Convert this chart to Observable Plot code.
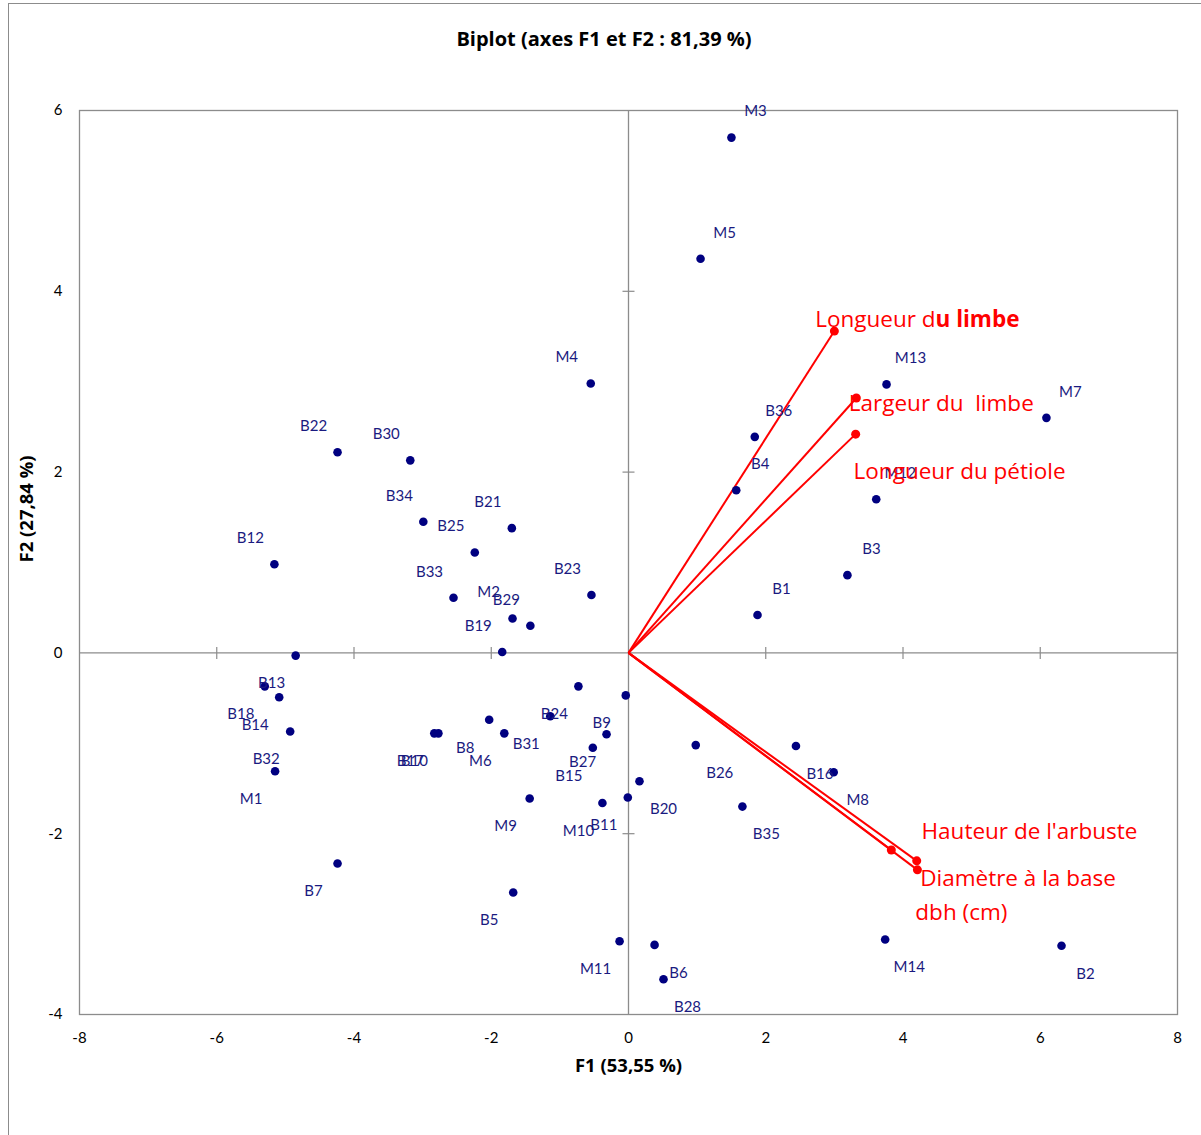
<!DOCTYPE html>
<html>
<head>
<meta charset="utf-8">
<script src="https://cdn.jsdelivr.net/npm/d3@7"></script>
<script src="https://cdn.jsdelivr.net/npm/@observablehq/plot@0.6"></script>
<style>
  body { margin: 0; background: #fff; font-family: Lato, "Open Sans", sans-serif; }
  #wrap { position: relative; width: 1201px; height: 1135px; overflow: hidden; }
  #border { position: absolute; left: 8px; top: 3px; width: 1210px; height: 1150px; border: 1px solid #8c8c8c; box-sizing: border-box; }
  #title { position: absolute; left: 0; top: 25px; width: 1208px; text-align: center; font: bold 20px "Open Sans", sans-serif; color: #000; }
  #chart { position: absolute; left: 0; top: 0; }
</style>
</head>
<body>
<div id="wrap">
  <div id="border"></div>
  <div id="title">Biplot (axes F1 et F2 : 81,39 %)</div>
  <div id="chart"></div>
</div>
<script>
// Observations (F1, F2 coordinates)
const obsNames = ["M3","M5","M13","M7","B36","B4","M12","B3","B1","M4","B22","B30","B34","B21","B25","B12","B33","B23","M2","B29","B19","B13","B18","B14","B32","M1","B17","B10","B8","M6","B31","B24","B9","B27","B15","M9","M10","B11","B7","B5","B20","B26","B16","M8","B35","M11","B6","B28","M14","B2"];
const obsF1 = [1.50,1.05,3.76,6.09,1.84,1.57,3.61,3.19,1.88,-0.55,-4.24,-3.18,-2.99,-1.70,-2.24,-5.16,-2.55,-0.54,-1.69,-1.43,-1.84,-4.85,-5.30,-5.09,-4.93,-5.15,-2.83,-2.77,-2.03,-1.81,-1.14,-0.73,-0.04,-0.32,-0.52,-1.44,-0.38,-0.01,-4.24,-1.68,0.16,0.98,2.44,2.99,1.66,-0.13,0.38,0.51,3.74,6.31];
const obsF2 = [5.70,4.36,2.97,2.60,2.39,1.80,1.70,0.86,0.42,2.98,2.22,2.13,1.45,1.38,1.11,0.98,0.61,0.64,0.38,0.30,0.01,-0.03,-0.37,-0.49,-0.87,-1.31,-0.89,-0.89,-0.74,-0.89,-0.70,-0.37,-0.47,-0.90,-1.05,-1.61,-1.66,-1.60,-2.33,-2.65,-1.42,-1.02,-1.03,-1.32,-1.70,-3.19,-3.23,-3.61,-3.17,-3.24];

// Variables (vectors)
const varNames = ["Longueur du limbe","Largeur du  limbe","Longueur du pétiole","Hauteur de l'arbuste","Diamètre à la base","dbh (cm)"];
const varF1 = [3.00,3.32,3.31,4.20,4.21,3.83];
const varF2 = [3.56,2.82,2.42,-2.30,-2.40,-2.18];
const varLabelF1 = [2.72,3.21,3.28,4.27,4.25,4.18];
const varLabelF2 = [3.69,2.76,2.00,-1.98,-2.50,-2.87];

// Tick values
const xTicks = [-8,-6,-4,-2,0,2,4,6,8];
const yTicks = [-4,-2,0,2,4,6];
const xInner = [-6,-4,-2,2,4,6];
const yInner = [-2,2,4];

const obs = obsNames.map((n,i) => ({name:n, f1:obsF1[i], f2:obsF2[i]}));
const vars = varNames.map((n,i) => ({name:n, f1:varF1[i], f2:varF2[i], lx:varLabelF1[i], ly:varLabelF2[i]}));

const hTick = {draw(ctx){ ctx.moveTo(-6,0); ctx.lineTo(6,0); }};
const vTick = {draw(ctx){ ctx.moveTo(0,-6); ctx.lineTo(0,6); }};
const axisGray = "#8c8c8c";
const navy = "#000080";
const labelBlue = "#1a1a80";
const red = "#ff0000";
const fmt = d => String(d);

const chart = Plot.plot({
  width: 1201,
  height: 1135,
  marginTop: 110,
  marginBottom: 121,
  marginLeft: 79,
  marginRight: 24,
  style: {fontFamily: "Lato, 'Open Sans', sans-serif", fontSize: "15px", color: "#000", background: "transparent", overflow: "visible"},
  x: {domain: [-8, 8], label: null},
  y: {domain: [-4, 6], label: null},
  marks: [
    Plot.frame({stroke: axisGray, strokeWidth: 1.3}),
    Plot.ruleX([0], {stroke: axisGray, strokeWidth: 1.3}),
    Plot.ruleY([0], {stroke: axisGray, strokeWidth: 1.3}),
    Plot.dot(yInner, {x: 0, y: d => d, symbol: hTick, stroke: axisGray, fill: "none", strokeWidth: 1.2}),
    Plot.dot(xInner, {x: d => d, y: 0, symbol: vTick, stroke: axisGray, fill: "none", strokeWidth: 1.2}),
    Plot.axisX(xTicks, {tickSize: 0, tickPadding: 18, fontSize: 15, tickFormat: fmt, label: null}),
    Plot.axisY(yTicks, {tickSize: 0, tickPadding: 17, fontSize: 15, tickFormat: fmt, label: null}),
    Plot.text(["F1 (53,55 %)"], {frameAnchor: "bottom", dy: 57, fontWeight: "bold", fontSize: 18.5, fontFamily: "'Open Sans', sans-serif"}),
    Plot.text(["F2 (27,84 %)"], {frameAnchor: "left", dx: -52, rotate: -90, fontWeight: "bold", fontSize: 18.5, fontFamily: "'Open Sans', sans-serif"}),
    // variable vectors
    Plot.link(vars, {x1: 0, y1: 0, x2: "f1", y2: "f2", stroke: red, strokeWidth: 2}),
    Plot.dot(vars, {x: "f1", y: "f2", r: 4.5, fill: red}),
    // observations
    Plot.dot(obs, {x: "f1", y: "f2", r: 4.3, fill: navy}),
    Plot.text(obs, {x: "f1", y: "f2", text: "name", fill: labelBlue, fontSize: 15}),
    Plot.text(vars, {x: "lx", y: "ly", text: "name", fill: red, fontSize: 22.5, textAnchor: "start", fontFamily: "'Open Sans', sans-serif"})
  ]
});
document.getElementById("chart").appendChild(chart);

// offset observation labels according to quadrant (label above/below, left/right of the point)
d3.select(chart).selectAll("text").each(function(){
  const t = d3.select(this);
  const i = obsNames.indexOf(t.text());
  const fill = t.attr("fill") || (this.parentNode && this.parentNode.getAttribute("fill"));
  if (i >= 0 && fill === labelBlue) {
    const dx = obsF1[i] > 0 ? 24 : -24;
    const dy = obsF2[i] >= 0 ? -26 : 28;
    const tr = t.attr("transform") || "";
    t.attr("transform", tr + ` translate(${dx},${dy})`);
  }
});
// mixed-weight label and preserved spacing
d3.select(chart).selectAll("text").each(function(){
  const t = d3.select(this);
  const s = t.text();
  if (s === "Longueur du limbe") {
    t.text(null);
    t.append("tspan").text("Longueur d");
    t.append("tspan").attr("font-weight", "bold").text("u limbe");
  }
  if (s === "Largeur du  limbe") t.style("white-space", "pre");
});
</script>
</body>
</html>
